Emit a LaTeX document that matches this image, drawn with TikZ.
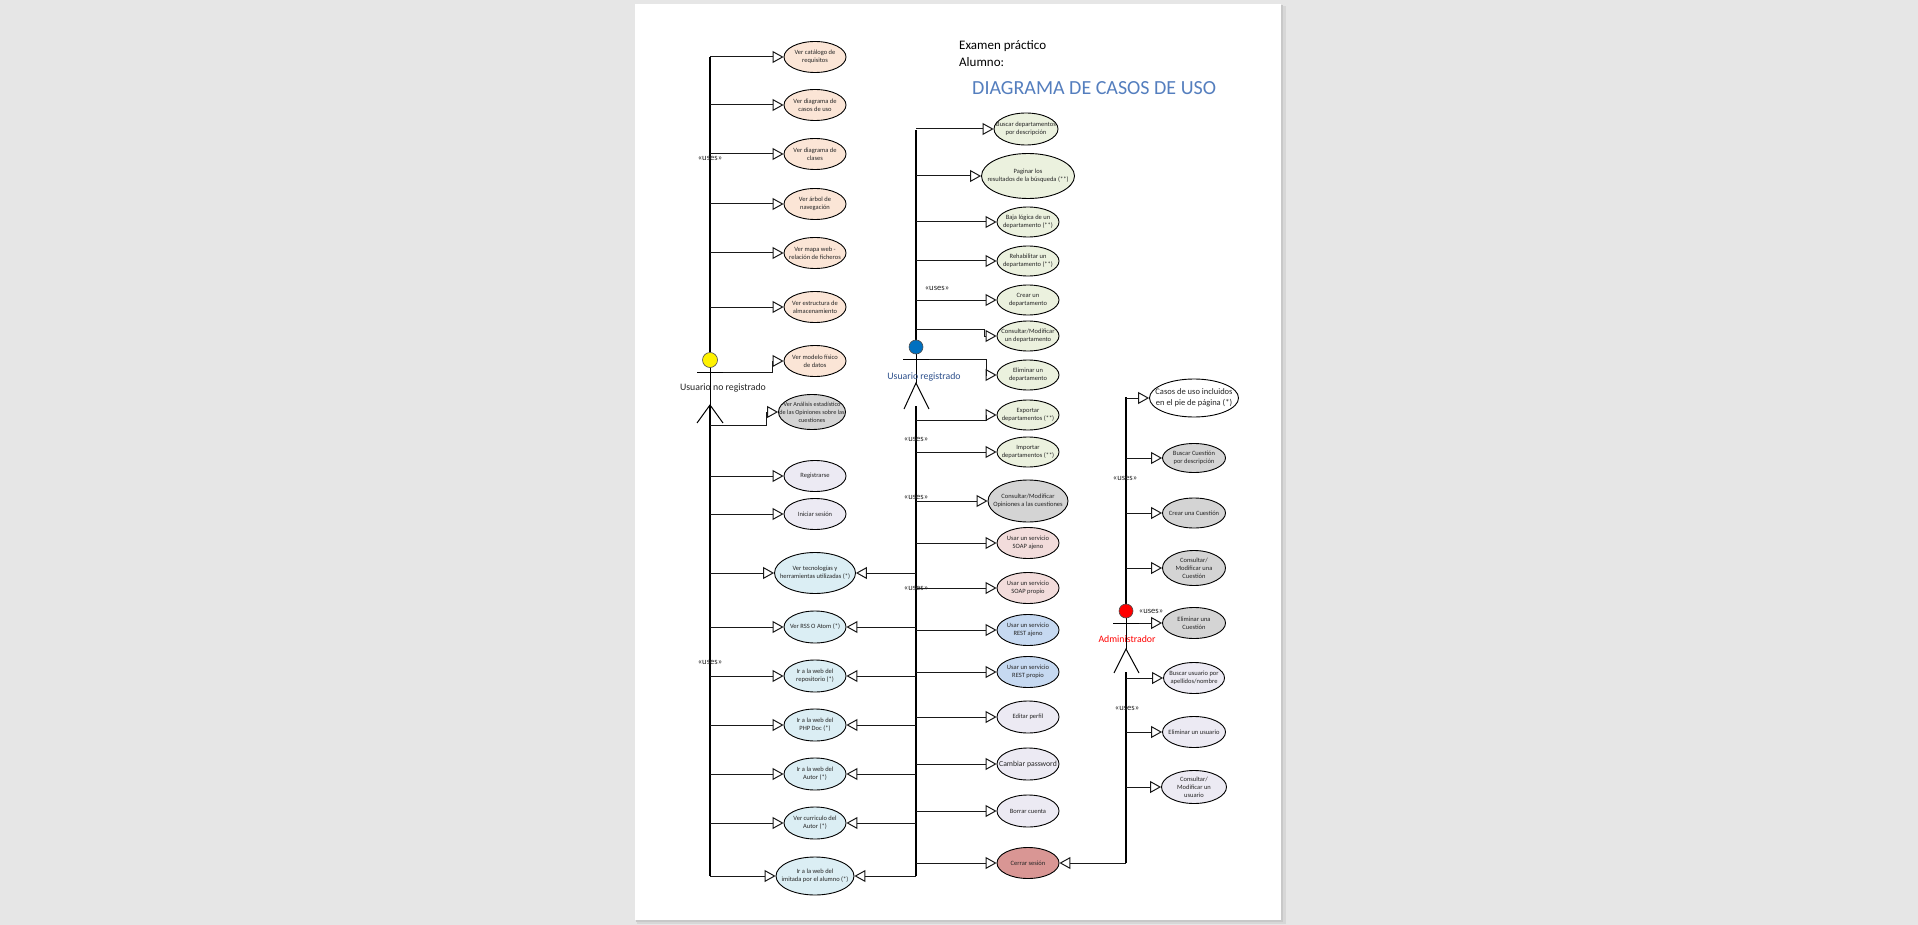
\documentclass[tikz,border=0pt]{standalone}
\usepackage{fontspec}
\setmainfont{Carlito}
\usetikzlibrary{arrows.meta,shapes.geometric}
\definecolor{bggray}{RGB}{230,230,230}
\definecolor{shadowgray}{RGB}{200,200,200}
\definecolor{peach}{RGB}{251,229,214}
\definecolor{olivelt}{RGB}{235,241,222}
\definecolor{grayuc}{RGB}{212,212,212}
\definecolor{lavender}{RGB}{236,234,243}
\definecolor{cyanlt}{RGB}{219,238,244}
\definecolor{pinklt}{RGB}{242,220,219}
\definecolor{bluelt}{RGB}{198,217,241}
\definecolor{redmid}{RGB}{217,150,148}
\definecolor{titleblue}{RGB}{84,126,190}
\definecolor{actorblue}{RGB}{45,80,140}
\definecolor{headblue}{RGB}{0,112,192}
\newcommand\ucfont{\fontsize{6.5}{8.2}\selectfont}
\newcommand\UC[8][\ucfont]{%
  \node[ucase, fill=#7, minimum width=#5pt, minimum height=#6pt] (#2) at (#3,#4) {};
  \node[uctext, font={#1}] at (#2.center) {#8};}
\begin{document}
\begin{tikzpicture}[x=1pt,y=-1pt,
 ucase/.style={ellipse,draw=black,line width=0.9pt,inner sep=0pt},
 uctext/.style={align=center,inner sep=0pt,text=black!85},
 conn/.style={draw=black!90,line width=1pt,-{Triangle[open,length=11pt,width=12pt]}},
 bus/.style={draw=black,line width=1.8pt},
 wire/.style={draw=black,line width=1pt},
 usesl/.style={font=\fontsize{8.6}{9}\selectfont,inner sep=0pt,text=black!85},
 actorlbl/.style={font=\fontsize{9.8}{11}\selectfont,inner sep=0pt}]
% page
\fill[bggray] (0,0) rectangle (1918,925);
\fill[shadowgray!50!bggray] (637,6) rectangle (1286,924);
\fill[shadowgray] (636,5) rectangle (1283,922);
\fill[white] (635,4) rectangle (1281,920);
\useasboundingbox (0,0) rectangle (1918,925);
% titles
\node[anchor=west,inner sep=0pt,font=\fontsize{13}{15}\selectfont] (t1) at (959,46) {Examen práctico};
\node[anchor=west,inner sep=0pt,font=\fontsize{13}{15}\selectfont] (t2) at (959,62.5) {Alumno:};
\node[anchor=west,inner sep=0pt,font=\fontsize{20}{22}\selectfont,text=titleblue] (t3) at (972,88) {DIAGRAMA DE CASOS DE USO};
% left column
\UC{L1}{815}{57}{62}{31}{peach}{Ver catálogo de\\requisitos}
\UC{L2}{815}{105}{62}{31}{peach}{Ver diagrama de\\casos de uso}
\UC{L3}{815}{154}{62}{31}{peach}{Ver diagrama de\\clases}
\UC{L4}{815}{204}{62}{31}{peach}{Ver árbol de\\navegación}
\UC{L5}{815}{253}{62}{31}{peach}{Ver mapa web -\\relación de ficheros}
\UC{L6}{815}{307}{62}{31}{peach}{Ver estructura de\\almacenamiento}
\UC{L7}{815}{361}{62}{31}{peach}{Ver modelo físico\\de datos}
\UC[\fontsize{6.2}{8}\selectfont]{L8}{812}{412}{67}{35}{grayuc}{Ver Análisis estadístico\\de las Opiniones sobre las\\cuestiones}
\UC{L9}{815}{476}{62}{31}{lavender}{Registrarse}
\UC{L10}{815}{514}{62}{31}{lavender}{Iniciar sesión}
\UC{L11}{815}{573}{81}{41}{cyanlt}{Ver tecnologías y\\herramientas utilizadas (*)}
\UC{L12}{815}{627}{62}{32}{cyanlt}{Ver RSS O Atom (*)}
\UC{L13}{815}{676}{62}{32}{cyanlt}{Ir a la web del\\repositorio (*)}
\UC{L14}{815}{725}{62}{32}{cyanlt}{Ir a la web del\\PHP Doc (*)}
\UC{L15}{815}{774}{62}{32}{cyanlt}{Ir a la web del\\Autor (*)}
\UC{L16}{815}{823}{62}{32}{cyanlt}{Ver curriculo del\\Autor (*)}
\UC{L17}{815}{876}{78}{38}{cyanlt}{Ir a la web del\\imitada por el alumno (*)}
% middle column
\UC{M1}{1026}{129}{64}{32}{olivelt}{Buscar departamentos\\por descripción}
\UC{M2}{1028}{176}{93}{45}{olivelt}{Paginar los\\resultados de la búsqueda (**)}
\UC{M3}{1028}{222}{62}{30}{olivelt}{Baja lógica de un\\departamento (**)}
\UC{M4}{1028}{261}{62}{30}{olivelt}{Rehabilitar un\\departamento (**)}
\UC{M5}{1028}{300}{62}{30}{olivelt}{Crear un\\departamento}
\UC{M6}{1028}{336}{62}{30}{olivelt}{Consultar/Modificar\\un departamento}
\UC{M7}{1028}{375}{62}{30}{olivelt}{Eliminar un\\departamento}
\UC{M8}{1028}{415}{62}{30}{olivelt}{Exportar\\departamentos (**)}
\UC{M9}{1028}{452}{62}{30}{olivelt}{Importar\\departamentos (**)}
\UC{M10}{1028}{501}{80}{42}{grayuc}{Consultar/Modificar\\Opiniones a las cuestiones}
\UC{M11}{1028}{543}{62}{31}{pinklt}{Usar un servicio\\SOAP ajeno}
\UC{M12}{1028}{588}{62}{31}{pinklt}{Usar un servicio\\SOAP propio}
\UC{M13}{1028}{630}{62}{31}{bluelt}{Usar un servicio\\REST ajeno}
\UC{M14}{1028}{672}{62}{31}{bluelt}{Usar un servicio\\REST propio}
\UC{M15}{1028}{717}{62}{32}{lavender}{Editar perfil}
\UC[\fontsize{7.7}{9}\selectfont]{M16}{1028}{764}{62}{32}{lavender}{Cambiar password}
\UC{M17}{1028}{811}{62}{32}{lavender}{Borrar cuenta}
\UC{M18}{1028}{863}{62}{31}{redmid}{Cerrar sesión}
% right column
\UC[\fontsize{8.5}{10.5}\selectfont]{R1}{1194}{398}{89}{38}{white}{Casos de uso incluidos\\en el pie de página (*)}
\UC{R2}{1194}{458}{63}{29}{grayuc}{Buscar Cuestión\\por descripción}
\UC{R3}{1194}{513}{63}{30}{grayuc}{Crear una Cuestión}
\UC{R4}{1194}{568}{63}{35}{grayuc}{Consultar/\\Modificar una\\Cuestión}
\UC{R5}{1194}{623}{63}{31}{grayuc}{Eliminar una\\Cuestión}
\UC{R6}{1194}{678}{61}{31}{lavender}{Buscar usuario por\\apellidos/nombre}
\UC{R7}{1194}{732}{63}{31}{lavender}{Eliminar un usuario}
\UC{R8}{1194}{787}{65}{33}{lavender}{Consultar/\\Modificar un\\usuario}
% bus coordinates
\coordinate (busL) at (710,0);
\coordinate (busM) at (916,0);
\coordinate (busR) at (1126,0);
% buses
\draw[bus] (710,57) -- (710,352);
\draw[bus] (710,405) -- (710,876);
\draw[bus] (916,130) -- (916,340);
\draw[bus] (916,406) -- (916,876);
\draw[bus] (1126,397) -- (1126,604);
\draw[bus] (1126,672) -- (1126,863);
% left connectors
\foreach \n in {L1,L2,L3,L4,L5,L6,L9,L10,L11,L12,L13,L14,L15,L16,L17}
  \draw[conn] (busL |- \n.west) -- (\n.west);
\draw[conn] (710,372) -- (772,372) -- (772,361) -- (L7.west);
\draw[conn] (710,425) -- (766,425) -- (766,412) -- (L8.west);
% middle connectors
\foreach \n in {M1,M2,M3,M4,M5,M9,M10,M11,M12,M13,M14,M15,M16,M17,M18}
  \draw[conn] (busM |- \n.west) -- (\n.west);
\draw[conn] (916,329) -- (984,329) -- (984,336) -- (M6.west);
\draw[conn] (916,359) -- (986,359) -- (986,375) -- (M7.west);
\draw[conn] (916,420) -- (986,420) -- (986,415) -- (M8.west);
\foreach \n in {L11,L12,L13,L14,L15,L16,L17}
  \draw[conn] (busM |- \n.east) -- (\n.east);
% right connectors
\foreach \n in {R1,R2,R3,R4,R5,R6,R7,R8}
  \draw[conn] (busR |- \n.west) -- (\n.west);
\draw[conn] (busR |- M18.east) -- (M18.east);
% actor: Usuario no registrado
\draw[wire] (697,372) -- (723,372);
\draw[wire] (710,367) -- (710,405);
\draw[wire] (697,423) -- (710,405) -- (723,423);
\node[circle,fill=yellow,draw=black!70,line width=0.6pt,minimum size=15pt,inner sep=0pt] (hL) at (710,360) {};
\node[actorlbl,text=black!85] (aL) at (723,388) {Usuario no registrado};
% actor: Usuario registrado
\draw[wire] (903,359) -- (929,359);
\draw[wire] (916,354) -- (916,383);
\draw[wire] (904,409) -- (916,383) -- (929,409);
\node[circle,fill=headblue,draw=black!70,line width=0.6pt,minimum size=14pt,inner sep=0pt] (hM) at (916,347) {};
\node[actorlbl,text=actorblue] (aM) at (924,377) {Usuario registrado};
% actor: Administrador
\draw[wire] (1113,623) -- (1139,623);
\draw[wire] (1126,618) -- (1126,649);
\draw[wire] (1114,673) -- (1126,649) -- (1139,673);
\node[circle,fill=red,draw=black!70,line width=0.6pt,minimum size=14pt,inner sep=0pt] (hR) at (1126,611) {};
\node[actorlbl,text=red] (aR) at (1127,639) {Administrador};
% uses labels
\node[usesl] (u1) at (710,158) {«uses»};
\node[usesl] (u2) at (710,662) {«uses»};
\node[usesl] (u3) at (937,288) {«uses»};
\node[usesl] (u4) at (916,439) {«uses»};
\node[usesl] (u5) at (916,497) {«uses»};
\node[usesl] (u6) at (916,588) {«uses»};
\node[usesl] (u7) at (1125,478) {«uses»};
\node[usesl] (u8) at (1151,611) {«uses»};
\node[usesl] (u9) at (1127,708) {«uses»};
\end{tikzpicture}
\end{document}
